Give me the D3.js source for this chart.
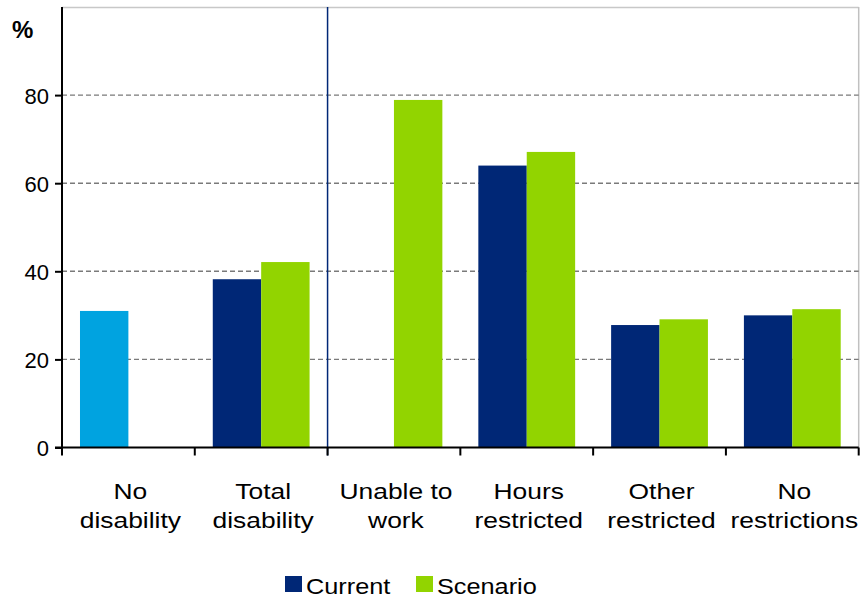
<!DOCTYPE html>
<html><head><meta charset="utf-8">
<script src="https://cdn.jsdelivr.net/npm/d3@7/dist/d3.min.js"></script>
<style>body{margin:0;background:#fff}text{font-family:"Liberation Sans",Arial,sans-serif}</style>
</head><body>
<svg id="c" width="861" height="600"></svg>
<script>
const categories = [["No","disability"],["Total","disability"],["Unable to","work"],["Hours","restricted"],["Other","restricted"],["No","restrictions"]];
const current = [31.0, 38.2, null, 64.0, 27.8, 30.0];
const scenario = [null, 42.1, 78.9, 67.1, 29.1, 31.4];
const yTicks = [0, 20, 40, 60, 80];
const seriesNames = ["Current", "Scenario"];
const colors = {current:"#002776", scenario:"#92d400", baseline:"#00a3e0"};

const svg = d3.select("#c");
const L = 62, R = 858.7, T = 7, B = 447.5;
const x = d3.scaleBand().domain(d3.range(categories.length)).range([L, R]);
const y = d3.scaleLinear().domain([0, 100]).range([B, T]);
const bw = x.bandwidth();
const inner = d3.scaleBand().domain([0,1]).range([bw*0.1355, bw*(1-0.1355)]);
// frame
svg.append("line").attr("x1",L).attr("x2",R).attr("y1",T+0.5).attr("y2",T+0.5).attr("stroke","#c8c8c8").attr("stroke-width",1.5);
svg.append("line").attr("x1",R).attr("x2",R).attr("y1",T).attr("y2",B).attr("stroke","#c0c0c0").attr("stroke-width",1.5);
// grid
svg.append("g").selectAll("line").data(yTicks.filter(d=>d>0)).join("line")
  .attr("x1",L).attr("x2",R).attr("y1",d=>y(d)).attr("y2",d=>y(d))
  .attr("stroke","#7a7a7a").attr("stroke-width",1.4).attr("stroke-dasharray","5,3");
// bars
const g = svg.append("g");
categories.forEach((c,i)=>{
  if (current[i]!=null) g.append("rect").attr("x",x(i)+inner(0)).attr("width",inner.bandwidth())
    .attr("y",y(current[i])).attr("height",B-y(current[i]))
    .attr("fill", i===0?colors.baseline:colors.current);
  if (scenario[i]!=null) g.append("rect").attr("x",x(i)+inner(1)).attr("width",inner.bandwidth())
    .attr("y",y(scenario[i])).attr("height",B-y(scenario[i])).attr("fill",colors.scenario);
});
// divider
svg.append("line").attr("x1",x(2)).attr("x2",x(2)).attr("y1",T).attr("y2",B+8).attr("stroke","#002776").attr("stroke-width",1.5);
// y axis
const ya = svg.append("g").attr("transform",`translate(${L},0)`).call(d3.axisLeft(y).tickValues(yTicks).tickSize(7).tickSizeOuter(0));
ya.select(".domain").attr("stroke","#000").attr("stroke-width",2).attr("d",`M0,${T}V${B}`);
ya.selectAll(".tick line").attr("stroke","#000").attr("stroke-width",2);
ya.selectAll(".tick text").attr("font-size",22).attr("fill","#000").attr("x",-13).attr("dy","0.36em")
  .attr("font-family",'"Liberation Sans",Arial,sans-serif');
// x axis
const xa = svg.append("g").attr("transform",`translate(0,${B})`);
xa.append("line").attr("x1",L-7).attr("x2",R).attr("y1",0).attr("y2",0).attr("stroke","#000").attr("stroke-width",2);
const tickX = d3.range(categories.length+1).map(i=> i<categories.length ? x(i) : R);
xa.selectAll("line.t").data(tickX).join("line").attr("class","t").attr("x1",d=>d).attr("x2",d=>d).attr("y1",0).attr("y2",8).attr("stroke","#000").attr("stroke-width",2);
const lab = svg.append("g");
categories.forEach((c,i)=>{
  const cx = x(i)+bw/2 + 2;
  const gg = lab.append("g").attr("transform",`translate(${cx},0) scale(1.2,1)`);
  const t = gg.append("text").attr("x",0).attr("text-anchor","middle").attr("font-size",22).attr("fill","#000");
  c.forEach((line,k)=> t.append("tspan").attr("x",0).attr("y",499+k*29.5).text(line));
});
// % label
svg.append("text").attr("x",12).attr("y",38).attr("font-size",24).attr("font-weight","bold").text("%");
// legend
const leg = svg.append("g");
const legItems = [{n:seriesNames[0],c:colors.current,x:285},{n:seriesNames[1],c:colors.scenario,x:416}];
legItems.forEach(d=>{
  leg.append("rect").attr("x",d.x).attr("y",576).attr("width",17).attr("height",16).attr("fill",d.c);
  leg.append("g").attr("transform",`translate(${d.x+21},594) scale(1.15,1)`)
    .append("text").attr("x",0).attr("y",0).attr("font-size",22).text(d.n);
});
</script>
</body></html>
